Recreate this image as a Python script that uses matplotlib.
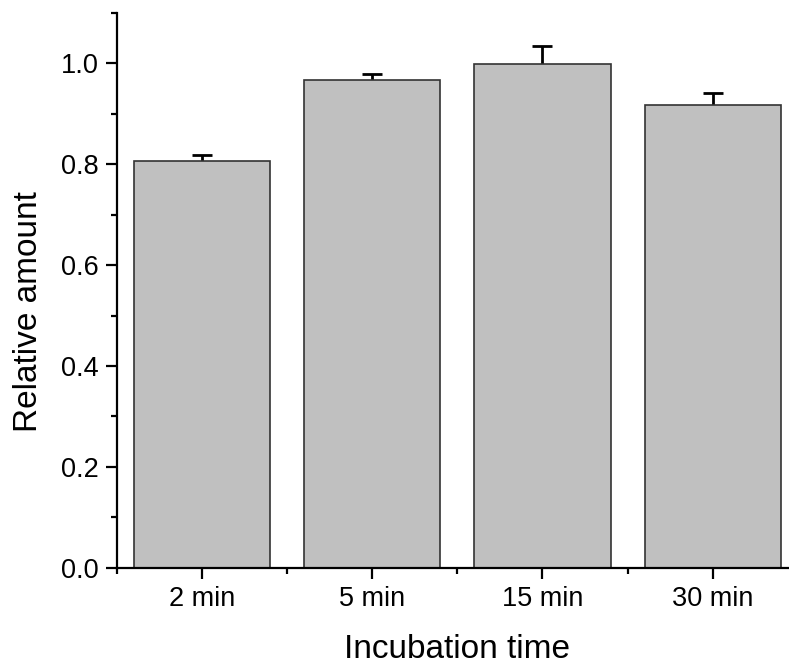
import numpy as np
import matplotlib.pyplot as plt
from matplotlib.ticker import MultipleLocator

# data
categories = ["2 min", "5 min", "15 min", "30 min"]
values = [0.807, 0.967, 0.999, 0.917]
errors = [0.012, 0.012, 0.036, 0.025]

plt.rcParams["font.family"] = ["Liberation Sans", "DejaVu Sans"]

fig = plt.figure(figsize=(7.89, 6.67), dpi=100)
ax = fig.add_axes([0.148, 0.1489, 0.8633, 0.8316])

x = np.arange(len(categories))
ax.bar(x, values, width=0.8, color="#c0c0c0", edgecolor="#333333", linewidth=1.2, zorder=2)
# symmetric error bars drawn behind the bars, so only the upper half shows
ax.errorbar(x, values, yerr=errors, fmt="none",
            ecolor="black", elinewidth=2, capsize=7, capthick=2, zorder=1)

ax.set_xlim(-0.5, 3.5)
ax.set_ylim(0, 1.1)
ax.set_xticks(x)
ax.set_xticklabels(categories)
ax.xaxis.set_minor_locator(MultipleLocator(1.0, offset=0.5))
ax.yaxis.set_major_locator(MultipleLocator(0.2))
ax.yaxis.set_minor_locator(MultipleLocator(0.1))
ax.set_yticklabels([f"{v:.1f}" for v in ax.get_yticks()])

for s in ["top", "right"]:
    ax.spines[s].set_visible(False)
for s in ["left", "bottom"]:
    ax.spines[s].set_linewidth(1.6)

ax.tick_params(which="major", direction="out", length=8, width=1.6, labelsize=19.5, pad=5)
ax.tick_params(which="minor", direction="out", length=4, width=1.6)

ax.set_xlabel("Incubation time", fontsize=24, labelpad=16)
ax.set_ylabel("Relative amount", fontsize=24, labelpad=12)
ax.yaxis.label.set_y(0.461)

fig.savefig("out.png", dpi=100)
